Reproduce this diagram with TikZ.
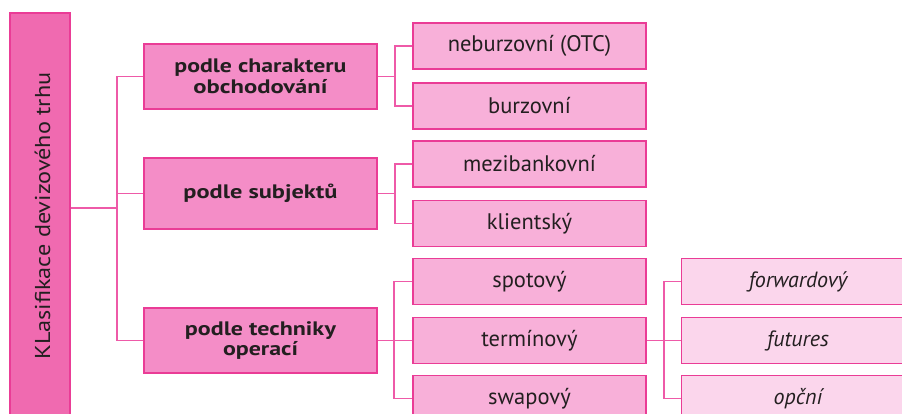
\documentclass[tikz,border=0pt]{standalone}
\usepackage{fontspec}
\usepackage{graphicx}
\setmainfont{PT Sans}
\newcommand{\fitw}[2]{\resizebox{#1}{\height}{#2}}
\definecolor{rootfill}{HTML}{F06AB0}
\definecolor{lonefill}{HTML}{F48DC7}
\definecolor{ltwofill}{HTML}{F8B0D9}
\definecolor{lthreefill}{HTML}{FBD6EC}
\definecolor{edgec}{HTML}{EA3C96}
\definecolor{linec}{HTML}{EE5AA8}
\definecolor{textc}{HTML}{231F20}
\begin{document}
\begin{tikzpicture}[x=1pt,y=-1pt,
  box/.style={draw=edgec, line width=1.2pt, minimum width=233pt, inner sep=0pt, text=textc, align=center},
  rootbox/.style={box, fill=rootfill, minimum width=60pt, minimum height=407pt},
  lone/.style={box, fill=lonefill, font=\bfseries\fontsize{19.5}{20.5}\selectfont},
  ltwo/.style={box, fill=ltwofill, minimum height=46pt, font=\fontsize{22.5}{26}\selectfont},
  lthree/.style={box, fill=lthreefill, minimum height=46pt, font=\itshape\fontsize{22}{26}\selectfont},
  conn/.style={draw=linec, line width=1.2pt}
]
\clip (0,0) rectangle (902,414);
\fill[white] (0,0) rectangle (902,414);

\node[rootbox] (root) at (40,216.5) {};
\node[rotate=90, text=textc, inner sep=0pt, font=\fontsize{21.5}{26}\selectfont] (roottext) at (42.5,216) {\fitw{287pt}{KLasifikace devizového trhu}};

\node[lone, minimum height=65pt] (a) at (260.5,76.5) {\fitw{172pt}{podle charakteru}\\\fitw{134pt}{obchodování}};
\node[lone, minimum height=71pt] (b) at (260.5,193.5) {\fitw{154pt}{podle subjektů}};
\node[lone, minimum height=65pt] (c) at (260.5,340.5) {\fitw{151pt}{podle techniky}\\\fitw{75pt}{operací}};

\node[ltwo] (a1) at (529.5,46) {neburzovní (OTC)};
\node[ltwo] (a2) at (529.5,106) {burzovní};
\node[ltwo] (b1) at (529.5,164) {mezibankovní};
\node[ltwo] (b2) at (529.5,223.5) {klientský};
\node[ltwo] (c1) at (529.5,281.5) {spotový};
\node[ltwo] (c2) at (529.5,340.5) {termínový};
\node[ltwo] (c3) at (529.5,398.5) {swapový};

\node[lthree] (d1) at (798,281.5) {forwardový};
\node[lthree] (d2) at (798,340.5) {futures};
\node[lthree] (d3) at (798,398.5) {opční};

% junctions
\coordinate (j0) at (117,208);
\coordinate (ja) at (395,76.5);
\coordinate (jb) at (395,193.5);
\coordinate (jc) at (394,340.5);
\coordinate (jd) at (664,340.5);

\draw[conn] (root.east |- j0) -- (j0);
\draw[conn] (a.west) -| (j0 |- a.west) |- (c.west);
\draw[conn] (j0 |- b.west) -- (b.west);

\draw[conn] (a.east) -- (ja);
\draw[conn] (a1.west) -| (ja |- a1.west) |- (a2.west);
\draw[conn] (b.east) -- (jb);
\draw[conn] (b1.west) -| (jb |- b1.west) |- (b2.west);
\draw[conn] (c.east) -- (c2.west);
\draw[conn] (c1.west) -| (jc |- c1.west) |- (c3.west);

\draw[conn] (c2.east) -- (d2.west);
\draw[conn] (d1.west) -| (jd |- d1.west) |- (d3.west);
\end{tikzpicture}
\end{document}
